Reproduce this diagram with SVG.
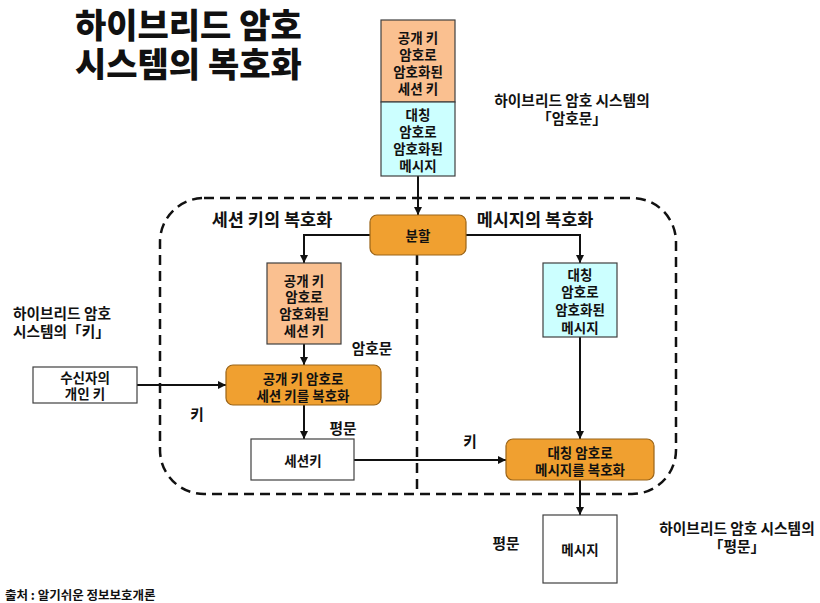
<svg xmlns="http://www.w3.org/2000/svg" width="820" height="603" viewBox="0 0 820 603">
<style>
text{font-family:"Noto Sans CJK KR","Noto Sans",sans-serif;font-weight:bold;fill:#111;dominant-baseline:central}
.c{text-anchor:middle}
.t{font-size:34px;font-weight:900}
.b{font-size:13.5px}
.l{font-size:14.7px}
.s{font-size:17.5px}
.box{stroke:#404040;stroke-width:1.2}
.org{fill:#F0A030;stroke:#9A6418;stroke-width:1.2}
.peach{fill:#FAC090}
.cyan{fill:#CCFFFF}
.white{fill:#ffffff}
.conn{fill:none;stroke:#111;stroke-width:2}
.dash{fill:none;stroke:#111;stroke-width:2.5;stroke-dasharray:10,6}
</style>
<defs>
<marker id="ah" viewBox="0 0 10 10" refX="10" refY="5" markerWidth="4" markerHeight="4" orient="auto" markerUnits="strokeWidth">
<path d="M0,0 L10,5 L0,10 z" fill="#111"/>
</marker>
</defs>
<rect width="820" height="603" fill="#fff"/>

<g id="title">
<text x="75" y="23" class="t">하이브리드 암호</text>
<text x="75" y="62" class="t">시스템의 복호화</text>
</g>

<g id="frame">
<rect x="160" y="198" width="516" height="296" rx="44" ry="44" class="dash"/>
<line x1="417" y1="255" x2="417" y2="494" class="dash"/>
<text x="272" y="218" class="c s">세션 키의 복호화</text>
<text x="535" y="218" class="c s">메시지의 복호화</text>
</g>

<g id="connectors">
<line x1="418" y1="176" x2="418" y2="215" class="conn" marker-end="url(#ah)"/>
<polyline points="370,235 304,235 304,263" class="conn" marker-end="url(#ah)"/>
<polyline points="466,235 580,235 580,263" class="conn" marker-end="url(#ah)"/>
<line x1="304" y1="344" x2="304" y2="365" class="conn" marker-end="url(#ah)"/>
<line x1="137" y1="385" x2="226" y2="385" class="conn" marker-end="url(#ah)"/>
<line x1="304" y1="405" x2="304" y2="439" class="conn" marker-end="url(#ah)"/>
<line x1="354" y1="460" x2="506" y2="460" class="conn" marker-end="url(#ah)"/>
<line x1="580" y1="337" x2="580" y2="439" class="conn" marker-end="url(#ah)"/>
<line x1="580" y1="480" x2="580" y2="515" class="conn" marker-end="url(#ah)"/>
</g>

<g id="ciphertext">
<rect x="381" y="20" width="74" height="82" class="box peach"/>
<text x="418" y="37" class="c b">공개 키</text>
<text x="418" y="54" class="c b">암호로</text>
<text x="418" y="71" class="c b">암호화된</text>
<text x="418" y="88" class="c b">세션 키</text>
<rect x="381" y="102" width="74" height="74" class="box cyan"/>
<text x="418" y="114" class="c b">대칭</text>
<text x="418" y="131" class="c b">암호로</text>
<text x="418" y="148" class="c b">암호화된</text>
<text x="418" y="165" class="c b">메시지</text>
</g>

<g id="label-ciphertext">
<text x="572" y="99" class="c l">하이브리드 암호 시스템의</text>
<text x="572" y="117" class="c l">「암호문」</text>
</g>

<g id="split">
<rect x="370" y="215" width="96" height="40" rx="7" class="org"/>
<text x="418" y="235" class="c b">분할</text>
</g>

<g id="enc-session-key">
<rect x="267" y="263" width="74" height="81" class="box peach"/>
<text x="304" y="280" class="c b">공개 키</text>
<text x="304" y="296" class="c b">암호로</text>
<text x="304" y="313" class="c b">암호화된</text>
<text x="304" y="330" class="c b">세션 키</text>
</g>

<g id="enc-message">
<rect x="543" y="263" width="74" height="74" class="box cyan"/>
<text x="580" y="274" class="c b">대칭</text>
<text x="580" y="291" class="c b">암호로</text>
<text x="580" y="309" class="c b">암호화된</text>
<text x="580" y="327" class="c b">메시지</text>
</g>

<g id="label-key">
<text x="13" y="312" class="l">하이브리드 암호</text>
<text x="13" y="330" class="l">시스템의「키」</text>
</g>

<g id="private-key">
<rect x="33" y="367" width="104" height="36" class="box white"/>
<text x="85" y="377" class="c b">수신자의</text>
<text x="85" y="393" class="c b">개인 키</text>
</g>

<g id="decrypt-session-key">
<rect x="226" y="365" width="155" height="40" rx="7" class="org"/>
<text x="303" y="378" class="c b">공개 키 암호로</text>
<text x="303" y="395" class="c b">세션 키를 복호화</text>
</g>

<g id="session-key">
<rect x="251" y="439" width="103" height="41" class="box white"/>
<text x="303" y="460" class="c b">세션키</text>
</g>

<g id="decrypt-message">
<rect x="506" y="439" width="148" height="41" rx="7" class="org"/>
<text x="580" y="452" class="c b">대칭 암호로</text>
<text x="580" y="469" class="c b">메시지를 복호화</text>
</g>

<g id="message">
<rect x="543" y="515" width="74" height="68" class="box white"/>
<text x="580" y="549" class="c b">메시지</text>
</g>

<g id="edge-labels">
<text x="372" y="347" class="c l">암호문</text>
<text x="197" y="413" class="c l">키</text>
<text x="343" y="427" class="c l">평문</text>
<text x="470" y="440" class="c l">키</text>
<text x="506" y="542" class="c l">평문</text>
</g>

<g id="label-plaintext">
<text x="737" y="527" class="c l">하이브리드 암호 시스템의</text>
<text x="737" y="545" class="c l">「평문」</text>
</g>

<text x="5" y="594" style="font-size:12.5px">출처 : 알기쉬운 정보보호개론</text>
</svg>
